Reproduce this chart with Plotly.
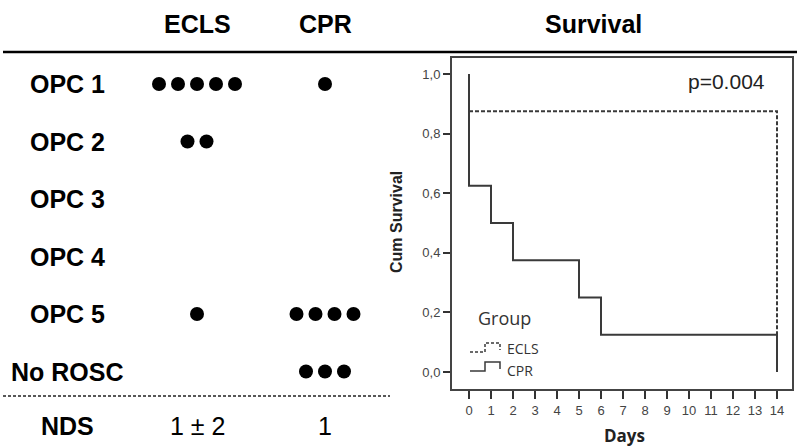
import plotly.graph_objects as go

# ---------------- data ----------------
rows = ["OPC 1", "OPC 2", "OPC 3", "OPC 4", "OPC 5", "No ROSC"]
groups = ["ECLS", "CPR"]
ecls_counts = [5, 2, 0, 0, 1, 0]
cpr_counts = [1, 0, 0, 0, 4, 3]
nds_values = ["1 ± 2", "1"]

cpr_days = [0, 0, 1, 2, 5, 6, 14, 14]
cpr_surv = [1.0, 0.625, 0.5, 0.375, 0.25, 0.125, 0.125, 0.0]
ecls_days = [0, 14, 14]
ecls_surv = [0.875, 0.875, 0.0]
day_ticks = list(range(0, 15))
surv_ticks = [0.0, 0.2, 0.4, 0.6, 0.8, 1.0]
p_value = "p=0.004"

W, H = 800, 446
def px(x):
    return x / W
def py(y):
    return 1 - y / H

fig = go.Figure()

# ---------------- left table (x2/y2 in pixel-like units) ----------------
col_x = {"ECLS": 197, "CPR": 325}
row_y0, row_dy = 84, 57.5
spacing = 19
counts = {"ECLS": ecls_counts, "CPR": cpr_counts}
for g in groups:
    xs, ys = [], []
    for i, n in enumerate(counts[g]):
        for k in range(n):
            xs.append(col_x[g] + (k - (n - 1) / 2) * spacing)
            ys.append(i)
    fig.add_trace(go.Scatter(x=xs, y=ys, mode="markers", xaxis="x2", yaxis="y2",
                             marker=dict(size=14, color="black"), showlegend=False,
                             hoverinfo="skip"))

fig.update_layout(
    xaxis2=dict(domain=[0, 0.5], range=[0, 400], visible=False, anchor="y2"),
    yaxis2=dict(domain=[0, 1], range=[(H - row_y0) / row_dy, -row_y0 / row_dy],
                visible=False, anchor="x2"),
)

annotations = []
bold = dict(family="Liberation Sans, Arial", size=25, color="black")
def pann(x, y, text, font, **kw):
    d = dict(x=px(x), y=py(y), xref="paper", yref="paper", text=text, showarrow=False,
             font=font, yanchor="middle")
    d.setdefault("xanchor", "center")
    d.update(kw)
    return d

for g in groups:
    annotations.append(pann(col_x[g], 24, "<b>%s</b>" % g, bold))
annotations.append(pann(593, 24, "<b>Survival</b>", bold))
for i, r in enumerate(rows):
    annotations.append(dict(x=67, y=i, xref="x2", yref="y2", text="<b>%s</b>" % r,
                            showarrow=False, font=bold, yanchor="middle"))
nds_y = (426 - row_y0) / row_dy
annotations.append(dict(x=67, y=nds_y, xref="x2", yref="y2", text="<b>NDS</b>",
                        showarrow=False, font=bold, yanchor="middle"))
for g, v in zip(groups, nds_values):
    annotations.append(dict(x=col_x[g], y=nds_y, xref="x2", yref="y2", text=v,
                            showarrow=False, yanchor="middle",
                            font=dict(family="Liberation Sans, Arial", size=25, color="black")))

shapes = [
    dict(type="line", xref="paper", yref="paper", x0=px(3), x1=px(797), y0=py(52), y1=py(52),
         line=dict(color="black", width=2.5)),
    dict(type="line", xref="paper", yref="paper", x0=px(3), x1=px(390), y0=py(396), y1=py(396),
         line=dict(color="#222", width=1.5, dash="3px,2px")),
]

# ---------------- survival plot ----------------
line_col = "#3a3a3a"
fig.add_trace(go.Scatter(x=ecls_days, y=ecls_surv, mode="lines", line_shape="hv",
                         line=dict(color=line_col, width=2, dash="4px,2px"),
                         showlegend=False, hoverinfo="skip"))
fig.add_trace(go.Scatter(x=cpr_days, y=cpr_surv, mode="lines", line_shape="hv",
                         line=dict(color=line_col, width=2),
                         showlegend=False, hoverinfo="skip"))

x_left, x_right, day0_px, day_px = 452, 792, 469, 22
y_top, y_bot, s0_px, s_px = 58, 389, 372, 298
tick_font = dict(family="Liberation Sans, Arial", size=13, color="#444")
fig.update_layout(
    xaxis=dict(domain=[px(x_left), px(x_right)],
               range=[(x_left - day0_px) / day_px, (x_right - day0_px) / day_px],
               tickvals=day_ticks, ticks="outside", ticklen=8, tickwidth=2, tickcolor="#333",
               showline=True, linecolor="#444", linewidth=2, mirror=True,
               showgrid=False, zeroline=False, anchor="y", tickfont=tick_font),
    yaxis=dict(domain=[py(y_bot), py(y_top)],
               range=[(s0_px - y_bot) / s_px, (s0_px - y_top) / s_px],
               tickvals=surv_ticks, tickformat=".1f", ticks="outside", ticklen=7, tickwidth=2,
               tickcolor="#333",
               showline=True, linecolor="#444", linewidth=2, mirror=True,
               showgrid=False, zeroline=False, anchor="x", tickfont=tick_font),
    separators=",.",
)

annotations += [
    pann(726, 82, p_value, dict(family="Liberation Sans, Arial", size=21, color="#222")),
    pann(396, 222, "<b>Cum Survival</b>", dict(family="Liberation Sans, Arial", size=16, color="#222"),
         textangle=-90),
    pann(624, 435, "<b>Days</b>", dict(family="Open Sans", size=17, color="#222")),
    pann(504, 318, "Group", dict(family="Open Sans", size=18, color="#333")),
    pann(505, 348, "ECLS", dict(family="Open Sans", size=14, color="#333"), xanchor="left"),
    pann(505, 370, "CPR", dict(family="Open Sans", size=14, color="#333"), xanchor="left"),
]

def glyph(ybase, dash):
    pts = [(470, ybase), (485, ybase), (485, ybase - 9), (500, ybase - 9), (500, ybase - 2)]
    path = "M " + " L ".join("%f,%f" % (px(a), py(b)) for a, b in pts)
    return dict(type="path", xref="paper", yref="paper", path=path,
                line=dict(color=line_col, width=1.5, dash=dash))

shapes += [glyph(352, "3px,2px"), glyph(371, "solid")]

fig.update_layout(width=W, height=H, margin=dict(l=0, r=0, t=0, b=0),
                  paper_bgcolor="white", plot_bgcolor="white",
                  annotations=annotations, shapes=shapes, showlegend=False)

fig.write_html("out.html", config={"displayModeBar": False},
               post_script="document.body.style.margin='0';document.body.style.overflow='hidden';")
